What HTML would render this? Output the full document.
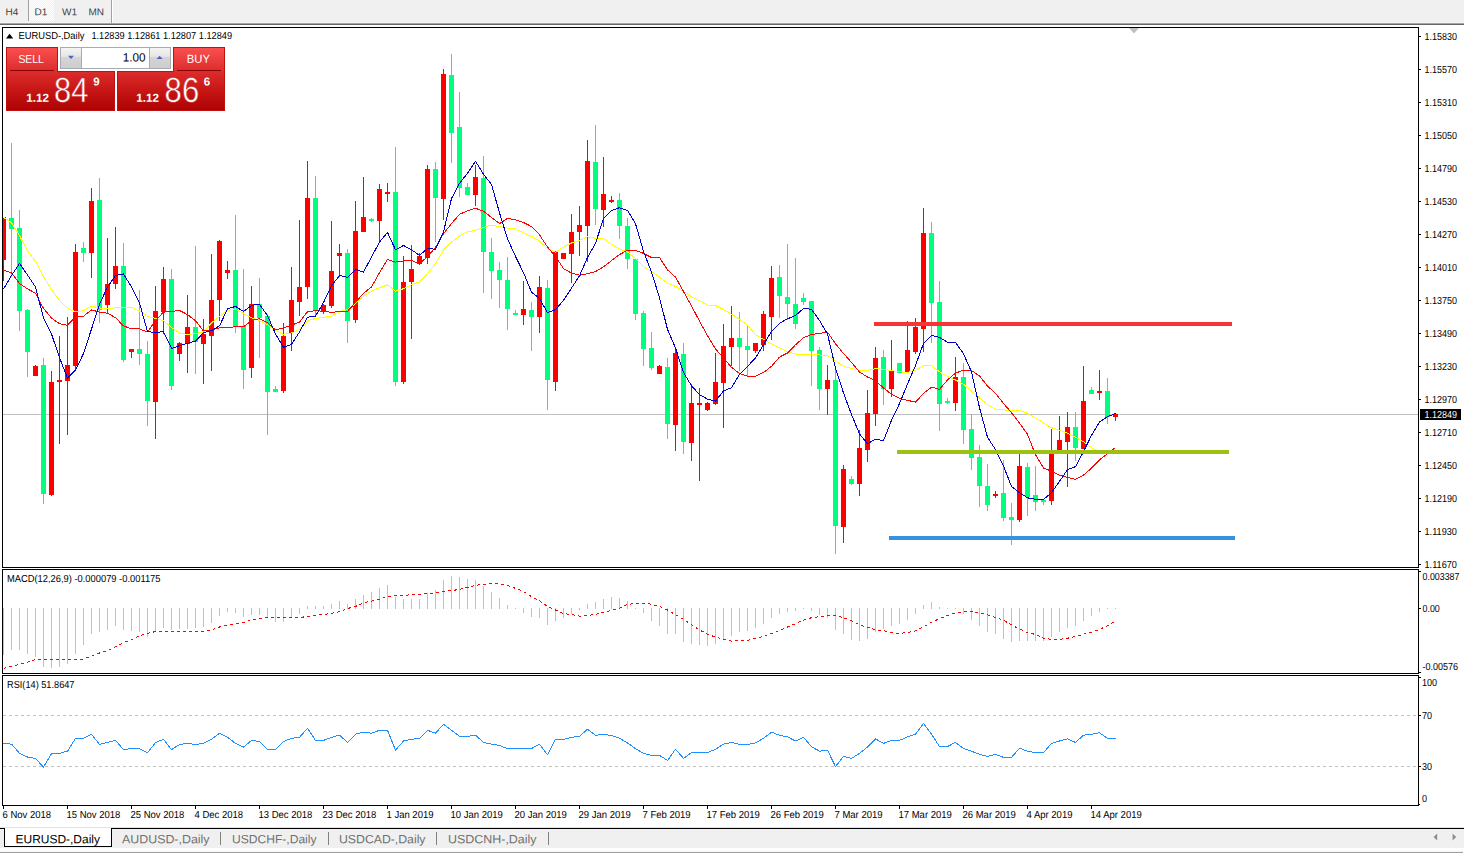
<!DOCTYPE html>
<html><head><meta charset="utf-8"><title>EURUSD-,Daily</title>
<style>
html,body{margin:0;padding:0;background:#fff;overflow:hidden}
body{width:1464px;height:855px;position:relative;font-family:"Liberation Sans",sans-serif}
svg{position:absolute;left:0;top:0;display:block}
svg text{font-family:"Liberation Sans",sans-serif;white-space:pre}
.c{shape-rendering:crispEdges}
</style></head><body>
<svg width="1464" height="855" viewBox="0 0 1464 855">
<defs>
<linearGradient id="rg" x1="0" y1="0" x2="0" y2="1"><stop offset="0" stop-color="#fb4e4e"/><stop offset="0.45" stop-color="#d82a2a"/><stop offset="1" stop-color="#b00000"/></linearGradient>
<linearGradient id="bg" x1="0" y1="0" x2="0" y2="1"><stop offset="0" stop-color="#f2f2f2"/><stop offset="0.45" stop-color="#e4e4e4"/><stop offset="0.5" stop-color="#d2d2d2"/><stop offset="1" stop-color="#cdcdcd"/></linearGradient>
<pattern id="chk" width="2" height="2" patternUnits="userSpaceOnUse"><rect width="2" height="2" fill="#f0f0f0"/><rect width="1" height="1" fill="#fff"/><rect x="1" y="1" width="1" height="1" fill="#fff"/></pattern>
</defs>
<g class="c">
<rect x="0" y="0" width="1464" height="22" fill="#f0f0f0"/>
<rect x="0" y="22" width="1464" height="1" fill="#f6f6f6"/>
<rect x="0" y="23" width="1464" height="1" fill="#a6a6a6"/>
<rect x="0" y="24" width="1464" height="1" fill="#686868"/>
<rect x="29" y="0" width="25" height="21" fill="url(#chk)"/>
<rect x="28" y="0" width="1" height="21" fill="#a0a0a0"/>
<rect x="111" y="0" width="1" height="23" fill="#a0a0a0"/>
<rect x="112" y="0" width="1" height="23" fill="#ffffff"/>
<rect x="2" y="27" width="1417" height="1" fill="#000"/>
<rect x="2" y="567" width="1417" height="1" fill="#000"/>
<rect x="2" y="27" width="1" height="541" fill="#000"/>
<rect x="1418" y="27" width="1" height="541" fill="#000"/>
<rect x="2" y="569" width="1417" height="1" fill="#000"/>
<rect x="2" y="673" width="1417" height="1" fill="#000"/>
<rect x="2" y="569" width="1" height="105" fill="#000"/>
<rect x="1418" y="569" width="1" height="105" fill="#000"/>
<rect x="2" y="675" width="1417" height="1" fill="#000"/>
<rect x="2" y="805" width="1417" height="1" fill="#000"/>
<rect x="2" y="675" width="1" height="131" fill="#000"/>
<rect x="1418" y="675" width="1" height="131" fill="#000"/>
<rect x="3" y="414" width="1415" height="1" fill="#c0c0c0"/>
<polygon points="1129,28 1139,28 1134,33.5" fill="#c0c0c0" shape-rendering="auto"/>
</g>
<g class="c">
<rect x="3" y="217" width="1" height="64" fill="#ff0000"/>
<rect x="3" y="217" width="3" height="43" fill="#ff0000"/>
<rect x="11" y="143" width="1" height="134" fill="#00ff7f"/>
<rect x="9" y="218" width="5" height="11" fill="#00ff7f"/>
<rect x="19" y="210" width="1" height="121" fill="#00ff7f"/>
<rect x="17" y="228" width="5" height="83" fill="#00ff7f"/>
<rect x="27" y="309" width="1" height="68" fill="#00ff7f"/>
<rect x="25" y="310" width="5" height="42" fill="#00ff7f"/>
<rect x="35" y="365" width="1" height="11" fill="#ff0000"/>
<rect x="33" y="366" width="5" height="10" fill="#ff0000"/>
<rect x="43" y="358" width="1" height="146" fill="#00ff7f"/>
<rect x="41" y="365" width="5" height="129" fill="#00ff7f"/>
<rect x="51" y="371" width="1" height="125" fill="#ff0000"/>
<rect x="49" y="382" width="5" height="113" fill="#ff0000"/>
<rect x="59" y="336" width="1" height="108" fill="#ff0000"/>
<rect x="57" y="380" width="5" height="2" fill="#ff0000"/>
<rect x="67" y="317" width="1" height="118" fill="#ff0000"/>
<rect x="65" y="365" width="5" height="16" fill="#ff0000"/>
<rect x="75" y="244" width="1" height="126" fill="#ff0000"/>
<rect x="73" y="252" width="5" height="114" fill="#ff0000"/>
<rect x="83" y="242" width="1" height="20" fill="#00ff7f"/>
<rect x="81" y="248" width="5" height="5" fill="#00ff7f"/>
<rect x="91" y="188" width="1" height="90" fill="#ff0000"/>
<rect x="89" y="201" width="5" height="52" fill="#ff0000"/>
<rect x="99" y="178" width="1" height="145" fill="#00ff7f"/>
<rect x="97" y="200" width="5" height="110" fill="#00ff7f"/>
<rect x="107" y="238" width="1" height="75" fill="#ff0000"/>
<rect x="105" y="284" width="5" height="21" fill="#ff0000"/>
<rect x="115" y="227" width="1" height="62" fill="#ff0000"/>
<rect x="113" y="266" width="5" height="18" fill="#ff0000"/>
<rect x="123" y="243" width="1" height="119" fill="#00ff7f"/>
<rect x="121" y="266" width="5" height="94" fill="#00ff7f"/>
<rect x="131" y="349" width="1" height="9" fill="#ff0000"/>
<rect x="129" y="349" width="5" height="3" fill="#ff0000"/>
<rect x="139" y="290" width="1" height="75" fill="#00ff7f"/>
<rect x="137" y="349" width="5" height="5" fill="#00ff7f"/>
<rect x="147" y="341" width="1" height="85" fill="#00ff7f"/>
<rect x="145" y="354" width="5" height="47" fill="#00ff7f"/>
<rect x="155" y="286" width="1" height="153" fill="#ff0000"/>
<rect x="153" y="311" width="5" height="91" fill="#ff0000"/>
<rect x="163" y="267" width="1" height="67" fill="#ff0000"/>
<rect x="161" y="279" width="5" height="33" fill="#ff0000"/>
<rect x="171" y="269" width="1" height="121" fill="#00ff7f"/>
<rect x="169" y="279" width="5" height="107" fill="#00ff7f"/>
<rect x="179" y="342" width="1" height="19" fill="#ff0000"/>
<rect x="177" y="343" width="5" height="11" fill="#ff0000"/>
<rect x="187" y="295" width="1" height="78" fill="#ff0000"/>
<rect x="185" y="327" width="5" height="17" fill="#ff0000"/>
<rect x="195" y="246" width="1" height="128" fill="#00ff7f"/>
<rect x="193" y="327" width="5" height="15" fill="#00ff7f"/>
<rect x="203" y="319" width="1" height="65" fill="#ff0000"/>
<rect x="201" y="334" width="5" height="10" fill="#ff0000"/>
<rect x="211" y="254" width="1" height="117" fill="#ff0000"/>
<rect x="209" y="300" width="5" height="36" fill="#ff0000"/>
<rect x="219" y="240" width="1" height="81" fill="#ff0000"/>
<rect x="217" y="241" width="5" height="59" fill="#ff0000"/>
<rect x="227" y="261" width="1" height="18" fill="#ff0000"/>
<rect x="225" y="270" width="5" height="3" fill="#ff0000"/>
<rect x="235" y="215" width="1" height="118" fill="#00ff7f"/>
<rect x="233" y="270" width="5" height="56" fill="#00ff7f"/>
<rect x="243" y="269" width="1" height="120" fill="#00ff7f"/>
<rect x="241" y="326" width="5" height="44" fill="#00ff7f"/>
<rect x="251" y="286" width="1" height="92" fill="#ff0000"/>
<rect x="249" y="304" width="5" height="64" fill="#ff0000"/>
<rect x="259" y="278" width="1" height="80" fill="#00ff7f"/>
<rect x="257" y="304" width="5" height="14" fill="#00ff7f"/>
<rect x="267" y="314" width="1" height="121" fill="#00ff7f"/>
<rect x="265" y="316" width="5" height="76" fill="#00ff7f"/>
<rect x="275" y="386" width="1" height="6" fill="#00ff7f"/>
<rect x="273" y="389" width="5" height="3" fill="#00ff7f"/>
<rect x="283" y="323" width="1" height="70" fill="#ff0000"/>
<rect x="281" y="336" width="5" height="55" fill="#ff0000"/>
<rect x="291" y="267" width="1" height="84" fill="#ff0000"/>
<rect x="289" y="300" width="5" height="33" fill="#ff0000"/>
<rect x="299" y="220" width="1" height="96" fill="#ff0000"/>
<rect x="297" y="287" width="5" height="15" fill="#ff0000"/>
<rect x="307" y="161" width="1" height="138" fill="#ff0000"/>
<rect x="305" y="198" width="5" height="89" fill="#ff0000"/>
<rect x="315" y="176" width="1" height="140" fill="#00ff7f"/>
<rect x="313" y="198" width="5" height="113" fill="#00ff7f"/>
<rect x="323" y="304" width="1" height="10" fill="#ff0000"/>
<rect x="321" y="305" width="5" height="7" fill="#ff0000"/>
<rect x="331" y="221" width="1" height="87" fill="#ff0000"/>
<rect x="329" y="271" width="5" height="35" fill="#ff0000"/>
<rect x="339" y="244" width="1" height="33" fill="#ff0000"/>
<rect x="337" y="253" width="5" height="3" fill="#ff0000"/>
<rect x="347" y="249" width="1" height="94" fill="#00ff7f"/>
<rect x="345" y="253" width="5" height="68" fill="#00ff7f"/>
<rect x="355" y="201" width="1" height="122" fill="#ff0000"/>
<rect x="353" y="231" width="5" height="89" fill="#ff0000"/>
<rect x="363" y="177" width="1" height="55" fill="#ff0000"/>
<rect x="361" y="217" width="5" height="15" fill="#ff0000"/>
<rect x="371" y="218" width="1" height="4" fill="#00ff7f"/>
<rect x="369" y="219" width="5" height="2" fill="#00ff7f"/>
<rect x="379" y="184" width="1" height="59" fill="#ff0000"/>
<rect x="377" y="189" width="5" height="32" fill="#ff0000"/>
<rect x="387" y="183" width="1" height="19" fill="#ff0000"/>
<rect x="385" y="192" width="5" height="2" fill="#ff0000"/>
<rect x="395" y="147" width="1" height="239" fill="#00ff7f"/>
<rect x="393" y="192" width="5" height="190" fill="#00ff7f"/>
<rect x="403" y="256" width="1" height="128" fill="#ff0000"/>
<rect x="401" y="282" width="5" height="100" fill="#ff0000"/>
<rect x="411" y="245" width="1" height="94" fill="#ff0000"/>
<rect x="409" y="269" width="5" height="13" fill="#ff0000"/>
<rect x="419" y="253" width="1" height="12" fill="#ff0000"/>
<rect x="417" y="256" width="5" height="8" fill="#ff0000"/>
<rect x="427" y="165" width="1" height="99" fill="#ff0000"/>
<rect x="425" y="169" width="5" height="89" fill="#ff0000"/>
<rect x="435" y="162" width="1" height="80" fill="#00ff7f"/>
<rect x="433" y="169" width="5" height="29" fill="#00ff7f"/>
<rect x="443" y="69" width="1" height="151" fill="#ff0000"/>
<rect x="441" y="74" width="5" height="125" fill="#ff0000"/>
<rect x="451" y="54" width="1" height="109" fill="#00ff7f"/>
<rect x="449" y="75" width="5" height="58" fill="#00ff7f"/>
<rect x="459" y="92" width="1" height="105" fill="#00ff7f"/>
<rect x="457" y="127" width="5" height="61" fill="#00ff7f"/>
<rect x="467" y="183" width="1" height="12" fill="#00ff7f"/>
<rect x="465" y="187" width="5" height="8" fill="#00ff7f"/>
<rect x="475" y="165" width="1" height="41" fill="#ff0000"/>
<rect x="473" y="177" width="5" height="18" fill="#ff0000"/>
<rect x="483" y="156" width="1" height="137" fill="#00ff7f"/>
<rect x="481" y="178" width="5" height="74" fill="#00ff7f"/>
<rect x="491" y="238" width="1" height="61" fill="#00ff7f"/>
<rect x="489" y="252" width="5" height="19" fill="#00ff7f"/>
<rect x="499" y="262" width="1" height="46" fill="#00ff7f"/>
<rect x="497" y="270" width="5" height="10" fill="#00ff7f"/>
<rect x="507" y="257" width="1" height="73" fill="#00ff7f"/>
<rect x="505" y="280" width="5" height="29" fill="#00ff7f"/>
<rect x="515" y="310" width="1" height="5" fill="#00ff7f"/>
<rect x="513" y="313" width="5" height="2" fill="#00ff7f"/>
<rect x="523" y="281" width="1" height="44" fill="#ff0000"/>
<rect x="521" y="309" width="5" height="6" fill="#ff0000"/>
<rect x="531" y="302" width="1" height="49" fill="#00ff7f"/>
<rect x="529" y="310" width="5" height="7" fill="#00ff7f"/>
<rect x="539" y="276" width="1" height="57" fill="#ff0000"/>
<rect x="537" y="287" width="5" height="30" fill="#ff0000"/>
<rect x="547" y="280" width="1" height="130" fill="#00ff7f"/>
<rect x="545" y="288" width="5" height="92" fill="#00ff7f"/>
<rect x="555" y="251" width="1" height="140" fill="#ff0000"/>
<rect x="553" y="252" width="5" height="130" fill="#ff0000"/>
<rect x="563" y="253" width="1" height="6" fill="#ff0000"/>
<rect x="561" y="253" width="5" height="6" fill="#ff0000"/>
<rect x="571" y="214" width="1" height="69" fill="#ff0000"/>
<rect x="569" y="232" width="5" height="22" fill="#ff0000"/>
<rect x="579" y="206" width="1" height="50" fill="#ff0000"/>
<rect x="577" y="225" width="5" height="7" fill="#ff0000"/>
<rect x="587" y="140" width="1" height="122" fill="#ff0000"/>
<rect x="585" y="161" width="5" height="65" fill="#ff0000"/>
<rect x="595" y="125" width="1" height="100" fill="#00ff7f"/>
<rect x="593" y="162" width="5" height="47" fill="#00ff7f"/>
<rect x="603" y="157" width="1" height="70" fill="#ff0000"/>
<rect x="601" y="194" width="5" height="16" fill="#ff0000"/>
<rect x="611" y="196" width="1" height="7" fill="#ff0000"/>
<rect x="609" y="200" width="5" height="2" fill="#ff0000"/>
<rect x="619" y="193" width="1" height="46" fill="#00ff7f"/>
<rect x="617" y="200" width="5" height="26" fill="#00ff7f"/>
<rect x="627" y="218" width="1" height="51" fill="#00ff7f"/>
<rect x="625" y="226" width="5" height="33" fill="#00ff7f"/>
<rect x="635" y="259" width="1" height="61" fill="#00ff7f"/>
<rect x="633" y="259" width="5" height="55" fill="#00ff7f"/>
<rect x="643" y="311" width="1" height="55" fill="#00ff7f"/>
<rect x="641" y="313" width="5" height="36" fill="#00ff7f"/>
<rect x="651" y="332" width="1" height="38" fill="#00ff7f"/>
<rect x="649" y="348" width="5" height="20" fill="#00ff7f"/>
<rect x="659" y="365" width="1" height="9" fill="#ff0000"/>
<rect x="657" y="366" width="5" height="8" fill="#ff0000"/>
<rect x="667" y="358" width="1" height="81" fill="#00ff7f"/>
<rect x="665" y="367" width="5" height="57" fill="#00ff7f"/>
<rect x="675" y="349" width="1" height="102" fill="#ff0000"/>
<rect x="673" y="353" width="5" height="72" fill="#ff0000"/>
<rect x="683" y="343" width="1" height="111" fill="#00ff7f"/>
<rect x="681" y="354" width="5" height="88" fill="#00ff7f"/>
<rect x="691" y="384" width="1" height="77" fill="#ff0000"/>
<rect x="689" y="403" width="5" height="40" fill="#ff0000"/>
<rect x="699" y="388" width="1" height="93" fill="#ff0000"/>
<rect x="697" y="403" width="5" height="2" fill="#ff0000"/>
<rect x="707" y="402" width="1" height="9" fill="#ff0000"/>
<rect x="705" y="403" width="5" height="7" fill="#ff0000"/>
<rect x="715" y="353" width="1" height="52" fill="#ff0000"/>
<rect x="713" y="382" width="5" height="22" fill="#ff0000"/>
<rect x="723" y="324" width="1" height="104" fill="#ff0000"/>
<rect x="721" y="346" width="5" height="37" fill="#ff0000"/>
<rect x="731" y="306" width="1" height="60" fill="#ff0000"/>
<rect x="729" y="338" width="5" height="9" fill="#ff0000"/>
<rect x="739" y="312" width="1" height="59" fill="#00ff7f"/>
<rect x="737" y="338" width="5" height="9" fill="#00ff7f"/>
<rect x="747" y="326" width="1" height="50" fill="#00ff7f"/>
<rect x="745" y="346" width="5" height="4" fill="#00ff7f"/>
<rect x="755" y="343" width="1" height="10" fill="#ff0000"/>
<rect x="753" y="343" width="5" height="8" fill="#ff0000"/>
<rect x="763" y="311" width="1" height="40" fill="#ff0000"/>
<rect x="761" y="314" width="5" height="31" fill="#ff0000"/>
<rect x="771" y="266" width="1" height="74" fill="#ff0000"/>
<rect x="769" y="278" width="5" height="39" fill="#ff0000"/>
<rect x="779" y="265" width="1" height="53" fill="#00ff7f"/>
<rect x="777" y="277" width="5" height="19" fill="#00ff7f"/>
<rect x="787" y="244" width="1" height="76" fill="#00ff7f"/>
<rect x="785" y="297" width="5" height="7" fill="#00ff7f"/>
<rect x="795" y="258" width="1" height="71" fill="#00ff7f"/>
<rect x="793" y="304" width="5" height="20" fill="#00ff7f"/>
<rect x="803" y="293" width="1" height="12" fill="#00ff7f"/>
<rect x="801" y="298" width="5" height="4" fill="#00ff7f"/>
<rect x="811" y="301" width="1" height="85" fill="#00ff7f"/>
<rect x="809" y="301" width="5" height="50" fill="#00ff7f"/>
<rect x="819" y="347" width="1" height="63" fill="#00ff7f"/>
<rect x="817" y="350" width="5" height="39" fill="#00ff7f"/>
<rect x="827" y="365" width="1" height="50" fill="#ff0000"/>
<rect x="825" y="380" width="5" height="9" fill="#ff0000"/>
<rect x="835" y="368" width="1" height="186" fill="#00ff7f"/>
<rect x="833" y="380" width="5" height="146" fill="#00ff7f"/>
<rect x="843" y="465" width="1" height="78" fill="#ff0000"/>
<rect x="841" y="469" width="5" height="58" fill="#ff0000"/>
<rect x="851" y="476" width="1" height="9" fill="#00ff7f"/>
<rect x="849" y="479" width="5" height="5" fill="#00ff7f"/>
<rect x="859" y="430" width="1" height="66" fill="#ff0000"/>
<rect x="857" y="448" width="5" height="36" fill="#ff0000"/>
<rect x="867" y="390" width="1" height="72" fill="#ff0000"/>
<rect x="865" y="413" width="5" height="37" fill="#ff0000"/>
<rect x="875" y="347" width="1" height="79" fill="#ff0000"/>
<rect x="873" y="358" width="5" height="56" fill="#ff0000"/>
<rect x="883" y="350" width="1" height="55" fill="#00ff7f"/>
<rect x="881" y="357" width="5" height="32" fill="#00ff7f"/>
<rect x="891" y="340" width="1" height="57" fill="#ff0000"/>
<rect x="889" y="371" width="5" height="18" fill="#ff0000"/>
<rect x="899" y="363" width="1" height="10" fill="#00ff7f"/>
<rect x="897" y="363" width="5" height="10" fill="#00ff7f"/>
<rect x="907" y="321" width="1" height="51" fill="#ff0000"/>
<rect x="905" y="350" width="5" height="22" fill="#ff0000"/>
<rect x="915" y="318" width="1" height="36" fill="#ff0000"/>
<rect x="913" y="327" width="5" height="25" fill="#ff0000"/>
<rect x="923" y="208" width="1" height="144" fill="#ff0000"/>
<rect x="921" y="233" width="5" height="96" fill="#ff0000"/>
<rect x="931" y="222" width="1" height="121" fill="#00ff7f"/>
<rect x="929" y="233" width="5" height="70" fill="#00ff7f"/>
<rect x="939" y="281" width="1" height="150" fill="#00ff7f"/>
<rect x="937" y="302" width="5" height="102" fill="#00ff7f"/>
<rect x="947" y="398" width="1" height="6" fill="#00ff7f"/>
<rect x="945" y="401" width="5" height="2" fill="#00ff7f"/>
<rect x="955" y="357" width="1" height="54" fill="#ff0000"/>
<rect x="953" y="377" width="5" height="26" fill="#ff0000"/>
<rect x="963" y="363" width="1" height="81" fill="#00ff7f"/>
<rect x="961" y="377" width="5" height="53" fill="#00ff7f"/>
<rect x="971" y="414" width="1" height="56" fill="#00ff7f"/>
<rect x="969" y="429" width="5" height="29" fill="#00ff7f"/>
<rect x="979" y="445" width="1" height="62" fill="#00ff7f"/>
<rect x="977" y="457" width="5" height="29" fill="#00ff7f"/>
<rect x="987" y="464" width="1" height="47" fill="#00ff7f"/>
<rect x="985" y="486" width="5" height="19" fill="#00ff7f"/>
<rect x="995" y="491" width="1" height="7" fill="#ff0000"/>
<rect x="993" y="494" width="5" height="2" fill="#ff0000"/>
<rect x="1003" y="460" width="1" height="61" fill="#00ff7f"/>
<rect x="1001" y="493" width="5" height="25" fill="#00ff7f"/>
<rect x="1011" y="503" width="1" height="42" fill="#00ff7f"/>
<rect x="1009" y="517" width="5" height="3" fill="#00ff7f"/>
<rect x="1019" y="454" width="1" height="68" fill="#ff0000"/>
<rect x="1017" y="466" width="5" height="54" fill="#ff0000"/>
<rect x="1027" y="463" width="1" height="53" fill="#00ff7f"/>
<rect x="1025" y="467" width="5" height="30" fill="#00ff7f"/>
<rect x="1035" y="466" width="1" height="45" fill="#00ff7f"/>
<rect x="1033" y="495" width="5" height="7" fill="#00ff7f"/>
<rect x="1043" y="499" width="1" height="6" fill="#00ff7f"/>
<rect x="1041" y="500" width="5" height="2" fill="#00ff7f"/>
<rect x="1051" y="429" width="1" height="76" fill="#ff0000"/>
<rect x="1049" y="452" width="5" height="49" fill="#ff0000"/>
<rect x="1059" y="416" width="1" height="38" fill="#ff0000"/>
<rect x="1057" y="440" width="5" height="11" fill="#ff0000"/>
<rect x="1067" y="412" width="1" height="75" fill="#ff0000"/>
<rect x="1065" y="427" width="5" height="15" fill="#ff0000"/>
<rect x="1075" y="412" width="1" height="49" fill="#00ff7f"/>
<rect x="1073" y="427" width="5" height="21" fill="#00ff7f"/>
<rect x="1083" y="366" width="1" height="83" fill="#ff0000"/>
<rect x="1081" y="401" width="5" height="48" fill="#ff0000"/>
<rect x="1091" y="387" width="1" height="7" fill="#00ff7f"/>
<rect x="1089" y="390" width="5" height="4" fill="#00ff7f"/>
<rect x="1099" y="370" width="1" height="30" fill="#ff0000"/>
<rect x="1097" y="391" width="5" height="2" fill="#ff0000"/>
<rect x="1107" y="378" width="1" height="46" fill="#00ff7f"/>
<rect x="1105" y="391" width="5" height="26" fill="#00ff7f"/>
<rect x="1115" y="413" width="1" height="8" fill="#ff0000"/>
<rect x="1113" y="414" width="5" height="3" fill="#ff0000"/>
</g>
<polyline points="3.5,217.4 11.5,222.7 19.5,235.6 27.5,250.8 35.5,261.4 43.5,276.6 51.5,289.5 59.5,300.5 67.5,308.4 75.5,311.9 83.5,310.5 91.5,306.3 99.5,308.0 107.5,308.7 115.5,307.8 123.5,308.0 131.5,307.4 139.5,311.0 147.5,316.3 155.5,318.3 163.5,320.7 171.5,327.5 179.5,333.0 187.5,334.5 195.5,333.6 203.5,332.0 211.5,322.8 219.5,316.6 227.5,310.5 235.5,309.0 243.5,313.6 251.5,317.7 259.5,320.7 267.5,324.8 275.5,330.0 283.5,334.5 291.5,333.0 299.5,329.5 307.5,320.9 315.5,318.4 323.5,317.4 331.5,316.2 339.5,311.7 347.5,309.6 355.5,303.5 363.5,296.3 371.5,291.2 379.5,287.7 387.5,285.0 395.5,291.2 403.5,288.7 411.5,284.6 419.5,282.0 427.5,273.8 435.5,263.5 443.5,250.2 451.5,242.0 459.5,235.9 467.5,231.8 475.5,230.3 483.5,227.3 491.5,225.2 499.5,226.6 507.5,228.1 515.5,228.7 523.5,232.8 531.5,236.5 539.5,241.0 547.5,248.6 555.5,252.3 563.5,247.1 571.5,243.0 579.5,240.4 587.5,236.9 595.5,238.2 603.5,238.7 611.5,244.2 619.5,248.9 627.5,252.0 635.5,258.6 643.5,266.8 651.5,271.5 659.5,277.1 667.5,283.3 675.5,286.4 683.5,291.5 691.5,296.6 699.5,300.7 707.5,305.2 715.5,305.5 723.5,309.5 731.5,314.1 739.5,319.2 747.5,325.3 755.5,334.5 763.5,339.3 771.5,343.8 779.5,347.9 787.5,351.6 795.5,354.2 803.5,354.2 811.5,354.2 819.5,355.0 827.5,355.8 835.5,361.0 843.5,366.3 851.5,368.3 859.5,370.4 867.5,370.4 875.5,368.7 883.5,369.3 891.5,370.6 899.5,371.8 907.5,372.4 915.5,370.2 923.5,365.7 931.5,365.6 939.5,371.9 947.5,376.3 955.5,380.0 963.5,384.2 971.5,391.1 979.5,397.9 987.5,404.5 995.5,409.3 1003.5,409.7 1011.5,411.1 1019.5,410.3 1027.5,413.4 1035.5,417.9 1043.5,423.0 1051.5,427.7 1059.5,430.2 1067.5,433.2 1075.5,437.3 1083.5,441.8 1091.5,447.6 1099.5,451.7 1107.5,453.3 1115.5,453.3" fill="none" stroke="#ffff00" stroke-width="1" stroke-linejoin="round" shape-rendering="crispEdges"/>
<polyline points="3.5,270.0 11.5,272.8 19.5,283.5 27.5,288.8 35.5,293.3 43.5,308.5 51.5,318.0 59.5,323.8 67.5,325.2 75.5,316.6 83.5,316.2 91.5,309.9 99.5,312.1 107.5,313.2 115.5,317.7 123.5,325.9 131.5,328.9 139.5,328.9 147.5,332.0 155.5,320.7 163.5,312.1 171.5,311.5 179.5,310.5 187.5,314.6 195.5,320.7 203.5,331.0 211.5,330.0 219.5,327.9 227.5,327.9 235.5,326.5 243.5,326.9 251.5,320.7 259.5,318.7 267.5,322.8 275.5,330.0 283.5,327.9 291.5,325.2 299.5,322.0 307.5,311.7 315.5,310.7 323.5,311.3 331.5,312.3 339.5,311.7 347.5,311.3 355.5,302.5 363.5,293.2 371.5,287.1 379.5,272.7 387.5,259.4 395.5,262.1 403.5,260.9 411.5,260.5 419.5,263.9 427.5,256.4 435.5,247.5 443.5,233.8 451.5,223.6 459.5,214.3 467.5,210.9 475.5,208.2 483.5,211.3 491.5,217.4 499.5,223.6 507.5,218.4 515.5,219.9 523.5,222.5 531.5,226.6 539.5,234.8 547.5,247.1 555.5,256.4 563.5,268.6 571.5,273.2 579.5,275.2 587.5,273.8 595.5,271.6 603.5,266.8 611.5,260.6 619.5,254.5 627.5,250.4 635.5,250.4 643.5,253.4 651.5,257.5 659.5,257.5 667.5,269.9 675.5,277.1 683.5,291.5 691.5,305.9 699.5,321.2 707.5,335.6 715.5,348.9 723.5,358.1 731.5,367.3 739.5,373.5 747.5,376.1 755.5,376.1 763.5,372.5 771.5,366.3 779.5,357.1 787.5,353.0 795.5,344.8 803.5,337.6 811.5,334.5 819.5,333.5 827.5,332.1 835.5,343.8 843.5,353.5 851.5,362.4 859.5,372.0 867.5,377.0 875.5,380.6 883.5,388.0 891.5,394.2 899.5,398.4 907.5,400.3 915.5,402.2 923.5,393.4 931.5,387.2 939.5,389.3 947.5,380.0 955.5,373.0 963.5,370.3 971.5,370.5 979.5,376.0 987.5,386.0 995.5,393.3 1003.5,403.5 1011.5,412.7 1019.5,423.0 1027.5,434.3 1035.5,454.8 1043.5,468.1 1051.5,471.1 1059.5,475.2 1067.5,477.3 1075.5,479.3 1083.5,475.2 1091.5,468.1 1099.5,459.9 1107.5,453.7 1115.5,447.6" fill="none" stroke="#ff0000" stroke-width="1" stroke-linejoin="round" shape-rendering="crispEdges"/>
<polyline points="3.5,289.0 11.5,275.5 19.5,263.5 27.5,275.0 35.5,287.0 43.5,318.0 51.5,334.0 59.5,357.6 67.5,378.1 75.5,370.0 83.5,353.5 91.5,329.0 99.5,304.3 107.5,287.0 115.5,275.6 123.5,274.0 131.5,287.0 139.5,303.0 147.5,331.6 155.5,332.6 163.5,331.6 171.5,348.4 179.5,345.7 187.5,343.3 195.5,341.2 203.5,332.6 211.5,330.6 219.5,325.9 227.5,308.9 235.5,306.4 243.5,311.5 251.5,305.4 259.5,304.3 267.5,315.6 275.5,334.0 283.5,347.4 291.5,344.3 299.5,332.0 307.5,317.2 315.5,316.2 323.5,302.5 331.5,286.0 339.5,275.4 347.5,277.5 355.5,269.3 363.5,272.1 371.5,257.0 379.5,242.0 387.5,232.4 395.5,249.8 403.5,245.5 411.5,249.8 419.5,255.3 427.5,248.6 435.5,249.2 443.5,231.8 451.5,198.5 459.5,183.4 467.5,173.2 475.5,161.3 483.5,174.2 491.5,184.5 499.5,212.8 507.5,238.9 515.5,256.4 523.5,272.7 531.5,292.2 539.5,298.4 547.5,312.7 555.5,309.6 563.5,300.4 571.5,288.1 579.5,275.8 587.5,257.4 595.5,243.3 603.5,218.6 611.5,210.4 619.5,207.7 627.5,210.4 635.5,223.7 643.5,251.4 651.5,272.0 659.5,297.7 667.5,329.4 675.5,347.9 683.5,372.5 691.5,385.8 699.5,394.6 707.5,399.1 715.5,401.1 723.5,390.9 731.5,387.8 739.5,374.5 747.5,366.3 755.5,358.1 763.5,344.8 771.5,331.5 779.5,323.3 787.5,318.8 795.5,315.5 803.5,308.5 811.5,309.3 819.5,320.5 827.5,334.0 835.5,368.0 843.5,393.0 851.5,414.5 859.5,433.9 867.5,443.7 875.5,439.2 883.5,440.7 891.5,420.3 899.5,403.5 907.5,384.1 915.5,365.5 923.5,343.5 931.5,335.4 939.5,337.4 947.5,342.2 955.5,342.4 963.5,353.7 971.5,372.0 979.5,407.6 987.5,437.3 995.5,449.6 1003.5,466.0 1011.5,486.5 1019.5,492.7 1027.5,497.8 1035.5,499.4 1043.5,499.4 1051.5,492.7 1059.5,481.4 1067.5,469.7 1075.5,466.6 1083.5,451.7 1091.5,435.3 1099.5,422.0 1107.5,416.8 1115.5,413.4" fill="none" stroke="#0000cd" stroke-width="1" stroke-linejoin="round" shape-rendering="crispEdges"/>
<g class="c">
<rect x="874" y="322" width="358" height="4" fill="#f83434"/>
<rect x="897" y="450" width="332" height="4" fill="#9cc20f"/>
<rect x="889" y="536" width="346" height="4" fill="#3890e0"/>
</g>
<g class="c">
<rect x="3" y="608" width="1" height="47" fill="#c0c0c0"/>
<rect x="11" y="608" width="1" height="42" fill="#c0c0c0"/>
<rect x="19" y="608" width="1" height="42" fill="#c0c0c0"/>
<rect x="27" y="608" width="1" height="46" fill="#c0c0c0"/>
<rect x="35" y="608" width="1" height="49" fill="#c0c0c0"/>
<rect x="43" y="608" width="1" height="59" fill="#c0c0c0"/>
<rect x="51" y="608" width="1" height="60" fill="#c0c0c0"/>
<rect x="59" y="608" width="1" height="59" fill="#c0c0c0"/>
<rect x="67" y="608" width="1" height="56" fill="#c0c0c0"/>
<rect x="75" y="608" width="1" height="46" fill="#c0c0c0"/>
<rect x="83" y="608" width="1" height="37" fill="#c0c0c0"/>
<rect x="91" y="608" width="1" height="26" fill="#c0c0c0"/>
<rect x="99" y="608" width="1" height="24" fill="#c0c0c0"/>
<rect x="107" y="608" width="1" height="22" fill="#c0c0c0"/>
<rect x="115" y="608" width="1" height="18" fill="#c0c0c0"/>
<rect x="123" y="608" width="1" height="22" fill="#c0c0c0"/>
<rect x="131" y="608" width="1" height="23" fill="#c0c0c0"/>
<rect x="139" y="608" width="1" height="24" fill="#c0c0c0"/>
<rect x="147" y="608" width="1" height="29" fill="#c0c0c0"/>
<rect x="155" y="608" width="1" height="24" fill="#c0c0c0"/>
<rect x="163" y="608" width="1" height="20" fill="#c0c0c0"/>
<rect x="171" y="608" width="1" height="22" fill="#c0c0c0"/>
<rect x="179" y="608" width="1" height="21" fill="#c0c0c0"/>
<rect x="187" y="608" width="1" height="21" fill="#c0c0c0"/>
<rect x="195" y="608" width="1" height="20" fill="#c0c0c0"/>
<rect x="203" y="608" width="1" height="19" fill="#c0c0c0"/>
<rect x="211" y="608" width="1" height="15" fill="#c0c0c0"/>
<rect x="219" y="608" width="1" height="8" fill="#c0c0c0"/>
<rect x="227" y="608" width="1" height="4" fill="#c0c0c0"/>
<rect x="235" y="608" width="1" height="5" fill="#c0c0c0"/>
<rect x="243" y="608" width="1" height="9" fill="#c0c0c0"/>
<rect x="251" y="608" width="1" height="7" fill="#c0c0c0"/>
<rect x="259" y="608" width="1" height="7" fill="#c0c0c0"/>
<rect x="267" y="608" width="1" height="10" fill="#c0c0c0"/>
<rect x="275" y="608" width="1" height="14" fill="#c0c0c0"/>
<rect x="283" y="608" width="1" height="14" fill="#c0c0c0"/>
<rect x="291" y="608" width="1" height="9" fill="#c0c0c0"/>
<rect x="299" y="608" width="1" height="6" fill="#c0c0c0"/>
<rect x="307" y="606" width="1" height="3" fill="#c0c0c0"/>
<rect x="315" y="606" width="1" height="3" fill="#c0c0c0"/>
<rect x="323" y="606" width="1" height="3" fill="#c0c0c0"/>
<rect x="331" y="604" width="1" height="5" fill="#c0c0c0"/>
<rect x="339" y="601" width="1" height="8" fill="#c0c0c0"/>
<rect x="347" y="604" width="1" height="5" fill="#c0c0c0"/>
<rect x="355" y="599" width="1" height="10" fill="#c0c0c0"/>
<rect x="363" y="595" width="1" height="14" fill="#c0c0c0"/>
<rect x="371" y="592" width="1" height="17" fill="#c0c0c0"/>
<rect x="379" y="588" width="1" height="21" fill="#c0c0c0"/>
<rect x="387" y="585" width="1" height="24" fill="#c0c0c0"/>
<rect x="395" y="597" width="1" height="12" fill="#c0c0c0"/>
<rect x="403" y="599" width="1" height="10" fill="#c0c0c0"/>
<rect x="411" y="599" width="1" height="10" fill="#c0c0c0"/>
<rect x="419" y="599" width="1" height="10" fill="#c0c0c0"/>
<rect x="427" y="593" width="1" height="16" fill="#c0c0c0"/>
<rect x="435" y="590" width="1" height="19" fill="#c0c0c0"/>
<rect x="443" y="580" width="1" height="29" fill="#c0c0c0"/>
<rect x="451" y="576" width="1" height="33" fill="#c0c0c0"/>
<rect x="459" y="577" width="1" height="32" fill="#c0c0c0"/>
<rect x="467" y="579" width="1" height="30" fill="#c0c0c0"/>
<rect x="475" y="580" width="1" height="29" fill="#c0c0c0"/>
<rect x="483" y="586" width="1" height="23" fill="#c0c0c0"/>
<rect x="491" y="592" width="1" height="17" fill="#c0c0c0"/>
<rect x="499" y="598" width="1" height="11" fill="#c0c0c0"/>
<rect x="507" y="605" width="1" height="4" fill="#c0c0c0"/>
<rect x="515" y="608" width="1" height="1" fill="#c0c0c0"/>
<rect x="523" y="608" width="1" height="5" fill="#c0c0c0"/>
<rect x="531" y="608" width="1" height="9" fill="#c0c0c0"/>
<rect x="539" y="608" width="1" height="10" fill="#c0c0c0"/>
<rect x="547" y="608" width="1" height="17" fill="#c0c0c0"/>
<rect x="555" y="608" width="1" height="13" fill="#c0c0c0"/>
<rect x="563" y="608" width="1" height="10" fill="#c0c0c0"/>
<rect x="571" y="608" width="1" height="6" fill="#c0c0c0"/>
<rect x="579" y="608" width="1" height="2" fill="#c0c0c0"/>
<rect x="587" y="604" width="1" height="5" fill="#c0c0c0"/>
<rect x="595" y="602" width="1" height="7" fill="#c0c0c0"/>
<rect x="603" y="599" width="1" height="10" fill="#c0c0c0"/>
<rect x="611" y="597" width="1" height="12" fill="#c0c0c0"/>
<rect x="619" y="598" width="1" height="11" fill="#c0c0c0"/>
<rect x="627" y="601" width="1" height="8" fill="#c0c0c0"/>
<rect x="635" y="608" width="1" height="1" fill="#c0c0c0"/>
<rect x="643" y="608" width="1" height="5" fill="#c0c0c0"/>
<rect x="651" y="608" width="1" height="13" fill="#c0c0c0"/>
<rect x="659" y="608" width="1" height="18" fill="#c0c0c0"/>
<rect x="667" y="608" width="1" height="26" fill="#c0c0c0"/>
<rect x="675" y="608" width="1" height="26" fill="#c0c0c0"/>
<rect x="683" y="608" width="1" height="34" fill="#c0c0c0"/>
<rect x="691" y="608" width="1" height="36" fill="#c0c0c0"/>
<rect x="699" y="608" width="1" height="37" fill="#c0c0c0"/>
<rect x="707" y="608" width="1" height="38" fill="#c0c0c0"/>
<rect x="715" y="608" width="1" height="36" fill="#c0c0c0"/>
<rect x="723" y="608" width="1" height="32" fill="#c0c0c0"/>
<rect x="731" y="608" width="1" height="28" fill="#c0c0c0"/>
<rect x="739" y="608" width="1" height="24" fill="#c0c0c0"/>
<rect x="747" y="608" width="1" height="23" fill="#c0c0c0"/>
<rect x="755" y="608" width="1" height="20" fill="#c0c0c0"/>
<rect x="763" y="608" width="1" height="16" fill="#c0c0c0"/>
<rect x="771" y="608" width="1" height="10" fill="#c0c0c0"/>
<rect x="779" y="608" width="1" height="6" fill="#c0c0c0"/>
<rect x="787" y="608" width="1" height="4" fill="#c0c0c0"/>
<rect x="795" y="608" width="1" height="3" fill="#c0c0c0"/>
<rect x="803" y="608" width="1" height="1" fill="#c0c0c0"/>
<rect x="811" y="608" width="1" height="3" fill="#c0c0c0"/>
<rect x="819" y="608" width="1" height="7" fill="#c0c0c0"/>
<rect x="827" y="608" width="1" height="10" fill="#c0c0c0"/>
<rect x="835" y="608" width="1" height="22" fill="#c0c0c0"/>
<rect x="843" y="608" width="1" height="26" fill="#c0c0c0"/>
<rect x="851" y="608" width="1" height="32" fill="#c0c0c0"/>
<rect x="859" y="608" width="1" height="33" fill="#c0c0c0"/>
<rect x="867" y="608" width="1" height="31" fill="#c0c0c0"/>
<rect x="875" y="608" width="1" height="24" fill="#c0c0c0"/>
<rect x="883" y="608" width="1" height="21" fill="#c0c0c0"/>
<rect x="891" y="608" width="1" height="18" fill="#c0c0c0"/>
<rect x="899" y="608" width="1" height="16" fill="#c0c0c0"/>
<rect x="907" y="608" width="1" height="12" fill="#c0c0c0"/>
<rect x="915" y="608" width="1" height="6" fill="#c0c0c0"/>
<rect x="923" y="605" width="1" height="4" fill="#c0c0c0"/>
<rect x="931" y="602" width="1" height="7" fill="#c0c0c0"/>
<rect x="939" y="607" width="1" height="2" fill="#c0c0c0"/>
<rect x="947" y="608" width="1" height="1" fill="#c0c0c0"/>
<rect x="955" y="608" width="1" height="1" fill="#c0c0c0"/>
<rect x="963" y="608" width="1" height="6" fill="#c0c0c0"/>
<rect x="971" y="608" width="1" height="12" fill="#c0c0c0"/>
<rect x="979" y="608" width="1" height="18" fill="#c0c0c0"/>
<rect x="987" y="608" width="1" height="24" fill="#c0c0c0"/>
<rect x="995" y="608" width="1" height="26" fill="#c0c0c0"/>
<rect x="1003" y="608" width="1" height="31" fill="#c0c0c0"/>
<rect x="1011" y="608" width="1" height="34" fill="#c0c0c0"/>
<rect x="1019" y="608" width="1" height="33" fill="#c0c0c0"/>
<rect x="1027" y="608" width="1" height="33" fill="#c0c0c0"/>
<rect x="1035" y="608" width="1" height="33" fill="#c0c0c0"/>
<rect x="1043" y="608" width="1" height="33" fill="#c0c0c0"/>
<rect x="1051" y="608" width="1" height="29" fill="#c0c0c0"/>
<rect x="1059" y="608" width="1" height="24" fill="#c0c0c0"/>
<rect x="1067" y="608" width="1" height="20" fill="#c0c0c0"/>
<rect x="1075" y="608" width="1" height="18" fill="#c0c0c0"/>
<rect x="1083" y="608" width="1" height="13" fill="#c0c0c0"/>
<rect x="1091" y="608" width="1" height="8" fill="#c0c0c0"/>
<rect x="1099" y="608" width="1" height="4" fill="#c0c0c0"/>
<rect x="1107" y="608" width="1" height="1" fill="#c0c0c0"/>
<rect x="1115" y="608" width="1" height="1" fill="#c0c0c0"/>
</g>
<polyline points="3.5,668.4 11.5,666.3 19.5,664.3 27.5,662.2 35.5,659.5 43.5,659.1 51.5,659.1 59.5,659.1 67.5,659.1 75.5,659.1 83.5,659.1 91.5,656.1 99.5,653.0 107.5,650.9 115.5,646.8 123.5,642.7 131.5,639.7 139.5,635.6 147.5,633.5 155.5,631.5 163.5,631.1 171.5,631.1 179.5,631.1 187.5,631.1 195.5,631.1 203.5,631.1 211.5,630.0 219.5,627.0 227.5,624.9 235.5,623.7 243.5,622.3 251.5,620.2 259.5,618.8 267.5,617.5 275.5,617.5 283.5,617.5 291.5,617.5 299.5,617.5 307.5,616.5 315.5,615.5 323.5,614.5 331.5,613.4 339.5,611.6 347.5,608.5 355.5,606.5 363.5,602.8 371.5,601.1 379.5,599.1 387.5,596.6 395.5,595.6 403.5,595.6 411.5,594.6 419.5,594.2 427.5,593.6 435.5,593.2 443.5,591.1 451.5,590.5 459.5,589.5 467.5,587.4 475.5,585.4 483.5,584.3 491.5,583.7 499.5,583.7 507.5,585.4 515.5,588.4 523.5,591.5 531.5,596.6 539.5,600.7 547.5,606.5 555.5,610.0 563.5,613.6 571.5,614.5 579.5,616.1 587.5,615.5 595.5,614.5 603.5,612.4 611.5,610.4 619.5,608.3 627.5,604.4 635.5,603.4 643.5,603.4 651.5,604.2 659.5,606.5 667.5,610.0 675.5,614.7 683.5,619.2 691.5,624.9 699.5,630.0 707.5,634.1 715.5,637.2 723.5,639.3 731.5,641.1 739.5,640.3 747.5,640.3 755.5,638.2 763.5,636.6 771.5,633.5 779.5,630.5 787.5,627.0 795.5,623.7 803.5,620.2 811.5,617.7 819.5,616.7 827.5,615.7 835.5,615.5 843.5,617.7 851.5,620.8 859.5,624.9 867.5,627.4 875.5,629.8 883.5,630.5 891.5,632.9 899.5,633.5 907.5,632.5 915.5,630.9 923.5,626.8 931.5,622.3 939.5,618.6 947.5,615.5 955.5,613.0 963.5,611.6 971.5,611.6 979.5,612.6 987.5,614.7 995.5,617.5 1003.5,620.2 1011.5,624.9 1019.5,629.0 1027.5,632.5 1035.5,634.5 1043.5,638.2 1051.5,639.3 1059.5,639.3 1067.5,638.2 1075.5,636.6 1083.5,634.1 1091.5,632.1 1099.5,629.4 1107.5,625.7 1115.5,621.2" fill="none" stroke="#ff0000" stroke-width="1" stroke-dasharray="3 3" shape-rendering="crispEdges"/>
<g class="c">
<line x1="3" y1="715.5" x2="1418" y2="715.5" stroke="#c0c0c0" stroke-width="1" stroke-dasharray="3 3"/>
<line x1="3" y1="766.5" x2="1418" y2="766.5" stroke="#c0c0c0" stroke-width="1" stroke-dasharray="3 3"/>
</g>
<polyline points="3.5,743.4 11.5,744.1 19.5,753.3 27.5,757.0 35.5,758.4 43.5,767.2 51.5,753.7 59.5,753.3 67.5,751.2 75.5,738.3 83.5,738.3 91.5,734.2 99.5,744.5 107.5,742.4 115.5,740.4 123.5,749.6 131.5,748.6 139.5,748.6 147.5,752.7 155.5,742.6 163.5,739.3 171.5,749.6 179.5,744.5 187.5,743.4 195.5,744.5 203.5,743.4 211.5,739.3 219.5,733.2 227.5,737.3 235.5,743.4 243.5,747.1 251.5,740.4 259.5,741.6 267.5,749.6 275.5,749.6 283.5,741.6 291.5,738.3 299.5,737.3 307.5,728.3 315.5,740.4 323.5,740.4 331.5,737.3 339.5,735.2 347.5,742.4 355.5,734.2 363.5,732.2 371.5,733.2 379.5,730.3 387.5,730.3 395.5,750.2 403.5,741.0 411.5,739.3 419.5,738.3 427.5,730.3 435.5,733.2 443.5,724.2 451.5,730.3 459.5,736.3 467.5,736.3 475.5,735.2 483.5,742.4 491.5,744.1 499.5,745.5 507.5,748.6 515.5,748.6 523.5,748.6 531.5,748.6 539.5,744.1 547.5,754.7 555.5,739.3 563.5,739.3 571.5,737.3 579.5,736.3 587.5,729.3 595.5,735.3 603.5,734.2 611.5,735.5 619.5,738.3 627.5,743.0 635.5,748.6 643.5,753.3 651.5,755.3 659.5,755.3 667.5,760.5 675.5,749.2 683.5,758.4 691.5,752.7 699.5,752.7 707.5,752.7 715.5,749.2 723.5,744.1 731.5,742.4 739.5,744.5 747.5,744.5 755.5,743.0 763.5,738.3 771.5,732.2 779.5,735.2 787.5,736.9 795.5,741.0 803.5,737.3 811.5,746.7 819.5,751.2 827.5,750.2 835.5,766.6 843.5,756.4 851.5,758.4 859.5,753.3 867.5,747.1 875.5,738.9 883.5,743.4 891.5,740.4 899.5,740.4 907.5,736.9 915.5,734.2 923.5,723.6 931.5,734.2 939.5,746.5 947.5,746.5 955.5,742.4 963.5,748.6 971.5,751.2 979.5,754.3 987.5,756.4 995.5,754.3 1003.5,757.4 1011.5,757.4 1019.5,748.2 1027.5,751.2 1035.5,752.7 1043.5,752.7 1051.5,743.4 1059.5,741.0 1067.5,738.9 1075.5,742.4 1083.5,735.2 1091.5,734.2 1099.5,732.8 1107.5,738.3 1115.5,738.3" fill="none" stroke="#1e90ff" stroke-width="1" stroke-linejoin="round" shape-rendering="crispEdges"/>
<g class="c">
<rect x="1419" y="36" width="2" height="1" fill="#000"/>
<rect x="1419" y="69" width="2" height="1" fill="#000"/>
<rect x="1419" y="102" width="2" height="1" fill="#000"/>
<rect x="1419" y="135" width="2" height="1" fill="#000"/>
<rect x="1419" y="168" width="2" height="1" fill="#000"/>
<rect x="1419" y="201" width="2" height="1" fill="#000"/>
<rect x="1419" y="234" width="2" height="1" fill="#000"/>
<rect x="1419" y="267" width="2" height="1" fill="#000"/>
<rect x="1419" y="300" width="2" height="1" fill="#000"/>
<rect x="1419" y="333" width="2" height="1" fill="#000"/>
<rect x="1419" y="366" width="2" height="1" fill="#000"/>
<rect x="1419" y="399" width="2" height="1" fill="#000"/>
<rect x="1419" y="432" width="2" height="1" fill="#000"/>
<rect x="1419" y="465" width="2" height="1" fill="#000"/>
<rect x="1419" y="498" width="2" height="1" fill="#000"/>
<rect x="1419" y="531" width="2" height="1" fill="#000"/>
<rect x="1419" y="564" width="2" height="1" fill="#000"/>
<rect x="1420" y="409" width="41" height="11" fill="#000"/>
<rect x="1419" y="571" width="2" height="1" fill="#000"/>
<rect x="1419" y="608" width="2" height="1" fill="#000"/>
<rect x="1419" y="672" width="2" height="1" fill="#000"/>
<rect x="1419" y="677" width="2" height="1" fill="#000"/>
<rect x="1419" y="715" width="2" height="1" fill="#000"/>
<rect x="1419" y="766" width="2" height="1" fill="#000"/>
<rect x="1419" y="804" width="1" height="1" fill="#000"/>
<rect x="3" y="806" width="1" height="3" fill="#000"/>
<rect x="67" y="806" width="1" height="3" fill="#000"/>
<rect x="131" y="806" width="1" height="3" fill="#000"/>
<rect x="195" y="806" width="1" height="3" fill="#000"/>
<rect x="259" y="806" width="1" height="3" fill="#000"/>
<rect x="323" y="806" width="1" height="3" fill="#000"/>
<rect x="387" y="806" width="1" height="3" fill="#000"/>
<rect x="451" y="806" width="1" height="3" fill="#000"/>
<rect x="515" y="806" width="1" height="3" fill="#000"/>
<rect x="579" y="806" width="1" height="3" fill="#000"/>
<rect x="643" y="806" width="1" height="3" fill="#000"/>
<rect x="707" y="806" width="1" height="3" fill="#000"/>
<rect x="771" y="806" width="1" height="3" fill="#000"/>
<rect x="835" y="806" width="1" height="3" fill="#000"/>
<rect x="899" y="806" width="1" height="3" fill="#000"/>
<rect x="963" y="806" width="1" height="3" fill="#000"/>
<rect x="1027" y="806" width="1" height="3" fill="#000"/>
<rect x="1091" y="806" width="1" height="3" fill="#000"/>
</g>
<text transform="translate(1424.5,40) rotate(0.03)" font-size="10.2" fill="#000" textLength="32.40" lengthAdjust="spacingAndGlyphs">1.15830</text>
<text transform="translate(1424.5,73) rotate(0.03)" font-size="10.2" fill="#000" textLength="32.40" lengthAdjust="spacingAndGlyphs">1.15570</text>
<text transform="translate(1424.5,106) rotate(0.03)" font-size="10.2" fill="#000" textLength="32.40" lengthAdjust="spacingAndGlyphs">1.15310</text>
<text transform="translate(1424.5,139) rotate(0.03)" font-size="10.2" fill="#000" textLength="32.40" lengthAdjust="spacingAndGlyphs">1.15050</text>
<text transform="translate(1424.5,172) rotate(0.03)" font-size="10.2" fill="#000" textLength="32.40" lengthAdjust="spacingAndGlyphs">1.14790</text>
<text transform="translate(1424.5,205) rotate(0.03)" font-size="10.2" fill="#000" textLength="32.40" lengthAdjust="spacingAndGlyphs">1.14530</text>
<text transform="translate(1424.5,238) rotate(0.03)" font-size="10.2" fill="#000" textLength="32.40" lengthAdjust="spacingAndGlyphs">1.14270</text>
<text transform="translate(1424.5,271) rotate(0.03)" font-size="10.2" fill="#000" textLength="32.40" lengthAdjust="spacingAndGlyphs">1.14010</text>
<text transform="translate(1424.5,304) rotate(0.03)" font-size="10.2" fill="#000" textLength="32.40" lengthAdjust="spacingAndGlyphs">1.13750</text>
<text transform="translate(1424.5,337) rotate(0.03)" font-size="10.2" fill="#000" textLength="32.40" lengthAdjust="spacingAndGlyphs">1.13490</text>
<text transform="translate(1424.5,370) rotate(0.03)" font-size="10.2" fill="#000" textLength="32.40" lengthAdjust="spacingAndGlyphs">1.13230</text>
<text transform="translate(1424.5,403) rotate(0.03)" font-size="10.2" fill="#000" textLength="32.40" lengthAdjust="spacingAndGlyphs">1.12970</text>
<text transform="translate(1424.5,436) rotate(0.03)" font-size="10.2" fill="#000" textLength="32.40" lengthAdjust="spacingAndGlyphs">1.12710</text>
<text transform="translate(1424.5,469) rotate(0.03)" font-size="10.2" fill="#000" textLength="32.40" lengthAdjust="spacingAndGlyphs">1.12450</text>
<text transform="translate(1424.5,502) rotate(0.03)" font-size="10.2" fill="#000" textLength="32.40" lengthAdjust="spacingAndGlyphs">1.12190</text>
<text transform="translate(1424.5,535) rotate(0.03)" font-size="10.2" fill="#000" textLength="32.40" lengthAdjust="spacingAndGlyphs">1.11930</text>
<text transform="translate(1424.5,568) rotate(0.03)" font-size="10.2" fill="#000" textLength="32.40" lengthAdjust="spacingAndGlyphs">1.11670</text>
<text transform="translate(1424.5,418) rotate(0.03)" font-size="10.2" fill="#fff" textLength="32.40" lengthAdjust="spacingAndGlyphs">1.12849</text>
<text transform="translate(1422.5,580) rotate(0.03)" font-size="10.2" fill="#000" textLength="36.90" lengthAdjust="spacingAndGlyphs">0.003387</text>
<text transform="translate(1422.5,612) rotate(0.03)" font-size="10.2" fill="#000" textLength="17.30" lengthAdjust="spacingAndGlyphs">0.00</text>
<text transform="translate(1422.5,670) rotate(0.03)" font-size="10.2" fill="#000" textLength="35.50" lengthAdjust="spacingAndGlyphs">-0.00576</text>
<text transform="translate(1422,686) rotate(0.03)" font-size="10.2" fill="#000" textLength="15.06" lengthAdjust="spacingAndGlyphs">100</text>
<text transform="translate(1422,719) rotate(0.03)" font-size="10.2" fill="#000" textLength="10.04" lengthAdjust="spacingAndGlyphs">70</text>
<text transform="translate(1422,770) rotate(0.03)" font-size="10.2" fill="#000" textLength="10.04" lengthAdjust="spacingAndGlyphs">30</text>
<text transform="translate(1422,802) rotate(0.03)" font-size="10.2" fill="#000" textLength="5.02" lengthAdjust="spacingAndGlyphs">0</text>
<text transform="translate(2.5,818) rotate(0.03)" font-size="10.2" fill="#000" textLength="48.59" lengthAdjust="spacingAndGlyphs">6 Nov 2018</text>
<text transform="translate(66.5,818) rotate(0.03)" font-size="10.2" fill="#000" textLength="53.87" lengthAdjust="spacingAndGlyphs">15 Nov 2018</text>
<text transform="translate(130.5,818) rotate(0.03)" font-size="10.2" fill="#000" textLength="53.87" lengthAdjust="spacingAndGlyphs">25 Nov 2018</text>
<text transform="translate(194.5,818) rotate(0.03)" font-size="10.2" fill="#000" textLength="48.59" lengthAdjust="spacingAndGlyphs">4 Dec 2018</text>
<text transform="translate(258.5,818) rotate(0.03)" font-size="10.2" fill="#000" textLength="53.87" lengthAdjust="spacingAndGlyphs">13 Dec 2018</text>
<text transform="translate(322.5,818) rotate(0.03)" font-size="10.2" fill="#000" textLength="53.87" lengthAdjust="spacingAndGlyphs">23 Dec 2018</text>
<text transform="translate(386.5,818) rotate(0.03)" font-size="10.2" fill="#000" textLength="47.01" lengthAdjust="spacingAndGlyphs">1 Jan 2019</text>
<text transform="translate(450.5,818) rotate(0.03)" font-size="10.2" fill="#000" textLength="52.30" lengthAdjust="spacingAndGlyphs">10 Jan 2019</text>
<text transform="translate(514.5,818) rotate(0.03)" font-size="10.2" fill="#000" textLength="52.30" lengthAdjust="spacingAndGlyphs">20 Jan 2019</text>
<text transform="translate(578.5,818) rotate(0.03)" font-size="10.2" fill="#000" textLength="52.30" lengthAdjust="spacingAndGlyphs">29 Jan 2019</text>
<text transform="translate(642.5,818) rotate(0.03)" font-size="10.2" fill="#000" textLength="48.07" lengthAdjust="spacingAndGlyphs">7 Feb 2019</text>
<text transform="translate(706.5,818) rotate(0.03)" font-size="10.2" fill="#000" textLength="53.35" lengthAdjust="spacingAndGlyphs">17 Feb 2019</text>
<text transform="translate(770.5,818) rotate(0.03)" font-size="10.2" fill="#000" textLength="53.35" lengthAdjust="spacingAndGlyphs">26 Feb 2019</text>
<text transform="translate(834.5,818) rotate(0.03)" font-size="10.2" fill="#000" textLength="48.06" lengthAdjust="spacingAndGlyphs">7 Mar 2019</text>
<text transform="translate(898.5,818) rotate(0.03)" font-size="10.2" fill="#000" textLength="53.34" lengthAdjust="spacingAndGlyphs">17 Mar 2019</text>
<text transform="translate(962.5,818) rotate(0.03)" font-size="10.2" fill="#000" textLength="53.34" lengthAdjust="spacingAndGlyphs">26 Mar 2019</text>
<text transform="translate(1026.5,818) rotate(0.03)" font-size="10.2" fill="#000" textLength="45.96" lengthAdjust="spacingAndGlyphs">4 Apr 2019</text>
<text transform="translate(1090.5,818) rotate(0.03)" font-size="10.2" fill="#000" textLength="51.24" lengthAdjust="spacingAndGlyphs">14 Apr 2019</text>
<polygon points="6,38.4 13.2,38.4 9.6,33.8" fill="#000"/>
<text transform="translate(18.4,39) rotate(0.03)" font-size="10.2" fill="#000" textLength="66.00" lengthAdjust="spacingAndGlyphs">EURUSD-,Daily</text>
<text transform="translate(91.4,39) rotate(0.03)" font-size="10.2" fill="#000" textLength="140.60" lengthAdjust="spacingAndGlyphs">1.12839 1.12861 1.12807 1.12849</text>
<text transform="translate(7,582) rotate(0.03)" font-size="10.2" fill="#000" textLength="153.50" lengthAdjust="spacingAndGlyphs">MACD(12,26,9) -0.000079 -0.001175</text>
<text transform="translate(7,688) rotate(0.03)" font-size="10.2" fill="#000" textLength="67.50" lengthAdjust="spacingAndGlyphs">RSI(14) 51.8647</text>
<text transform="translate(5.5,15.3) rotate(0.03)" font-size="10" fill="#404040">H4</text>
<text transform="translate(34.5,15.3) rotate(0.03)" font-size="10" fill="#404040">D1</text>
<text transform="translate(62,15.3) rotate(0.03)" font-size="10" fill="#404040">W1</text>
<text transform="translate(88.5,15.3) rotate(0.03)" font-size="10" fill="#404040">MN</text>
<linearGradient id="rg2" gradientUnits="userSpaceOnUse" x1="0" y1="47" x2="0" y2="111"><stop offset="0" stop-color="#fc5050"/><stop offset="0.38" stop-color="#dc2c2c"/><stop offset="0.7" stop-color="#c41414"/><stop offset="1" stop-color="#ae0202"/></linearGradient>
<linearGradient id="bg2" gradientUnits="userSpaceOnUse" x1="0" y1="48" x2="0" y2="68"><stop offset="0" stop-color="#f4f4f4"/><stop offset="0.42" stop-color="#e6e6e6"/><stop offset="0.46" stop-color="#d4d4d4"/><stop offset="1" stop-color="#cecece"/></linearGradient>
<g class="c">
<path d="M6.5,47.5H57.5V71.5H114.5V110.5H6.5Z" fill="url(#rg2)" stroke="#c01010" stroke-width="1"/>
<path d="M173.5,47.5H224.5V110.5H117.5V71.5H173.5Z" fill="url(#rg2)" stroke="#c01010" stroke-width="1"/>
<rect x="10" y="70" width="44" height="1" fill="#8a0000"/>
<rect x="177" y="70" width="44" height="1" fill="#8a0000"/>
<rect x="60" y="47" width="111" height="22" fill="#a8abb3"/>
<rect x="61" y="48" width="109" height="20" fill="#ffffff"/>
<rect x="61" y="48" width="20" height="20" fill="url(#bg2)"/>
<rect x="150" y="48" width="20" height="20" fill="url(#bg2)"/>
<rect x="81" y="48" width="1" height="20" fill="#a8abb3"/>
<rect x="149" y="48" width="1" height="20" fill="#a8abb3"/>
</g>
<polygon points="68,55.8 74,55.8 71,59" fill="#4a64c8"/>
<polygon points="156.6,59 162.6,59 159.6,55.8" fill="#4a64c8"/>
<text transform="translate(122.7,61.6) rotate(0.03)" font-size="12" fill="#000" textLength="22.80" lengthAdjust="spacingAndGlyphs">1.00</text>
<text transform="translate(18.4,62.8) rotate(0.03)" font-size="11.5" fill="#fff" textLength="25.50" lengthAdjust="spacingAndGlyphs">SELL</text>
<text transform="translate(186.8,62.8) rotate(0.03)" font-size="11.5" fill="#fff" textLength="23.20" lengthAdjust="spacingAndGlyphs">BUY</text>
<text transform="translate(26.3,101.8) rotate(0.03)" font-size="11.6" fill="#fff" textLength="22.80" lengthAdjust="spacingAndGlyphs" font-weight="bold">1.12</text>
<text transform="translate(54.0,102.2) rotate(0.03)" font-size="35" fill="#fff" textLength="34.40" lengthAdjust="spacingAndGlyphs" stroke="#cc2020" stroke-width="0.55">84</text>
<text transform="translate(93.2,85.6) rotate(0.03)" font-size="11.5" fill="#fff" font-weight="bold">9</text>
<text transform="translate(136.3,101.8) rotate(0.03)" font-size="11.6" fill="#fff" textLength="22.80" lengthAdjust="spacingAndGlyphs" font-weight="bold">1.12</text>
<text transform="translate(164.6,102.2) rotate(0.03)" font-size="35" fill="#fff" textLength="34.60" lengthAdjust="spacingAndGlyphs" stroke="#cc2020" stroke-width="0.55">86</text>
<text transform="translate(203.8,85.6) rotate(0.03)" font-size="11.5" fill="#fff" font-weight="bold">6</text>
<g class="c">
<rect x="0" y="827" width="1464" height="1" fill="#e3e3e3"/>
<rect x="0" y="828" width="1464" height="20" fill="#f0f0f0"/>
<rect x="112" y="828" width="1352" height="1" fill="#000"/>
<rect x="0" y="828" width="4" height="1" fill="#000"/>
<rect x="4" y="828" width="108" height="18" fill="#fff"/>
<rect x="4" y="828" width="1" height="19" fill="#000"/>
<rect x="111" y="828" width="1" height="19" fill="#000"/>
<rect x="4" y="846" width="108" height="1" fill="#000"/>
<rect x="0" y="848" width="1464" height="4" fill="#fff"/>
<rect x="0" y="852" width="1463" height="1" fill="#a0a0a0"/>
<rect x="0" y="851" width="1464" height="1" fill="#f4f4f4"/>
<rect x="0" y="853" width="1464" height="2" fill="#fff"/>
<rect x="220" y="832" width="1" height="13" fill="#808080"/>
<rect x="328" y="832" width="1" height="13" fill="#808080"/>
<rect x="436" y="832" width="1" height="13" fill="#808080"/>
<rect x="548" y="832" width="1" height="13" fill="#808080"/>
</g>
<text transform="translate(15.5,843.2) rotate(0.03)" font-size="12" fill="#000" textLength="84.50" lengthAdjust="spacingAndGlyphs">EURUSD-,Daily</text>
<text transform="translate(122,843.2) rotate(0.03)" font-size="12" fill="#707070" textLength="87.50" lengthAdjust="spacingAndGlyphs">AUDUSD-,Daily</text>
<text transform="translate(232,843.2) rotate(0.03)" font-size="12" fill="#707070" textLength="84.50" lengthAdjust="spacingAndGlyphs">USDCHF-,Daily</text>
<text transform="translate(339,843.2) rotate(0.03)" font-size="12" fill="#707070" textLength="86.50" lengthAdjust="spacingAndGlyphs">USDCAD-,Daily</text>
<text transform="translate(448,843.2) rotate(0.03)" font-size="12" fill="#707070" textLength="88.50" lengthAdjust="spacingAndGlyphs">USDCNH-,Daily</text>
<polygon points="1437.2,833.6 1437.2,840.4 1433.6,837" fill="#8c8c8c"/>
<polygon points="1452.6,833.6 1452.6,840.4 1456.2,837" fill="#8c8c8c"/>
</svg></body></html>
